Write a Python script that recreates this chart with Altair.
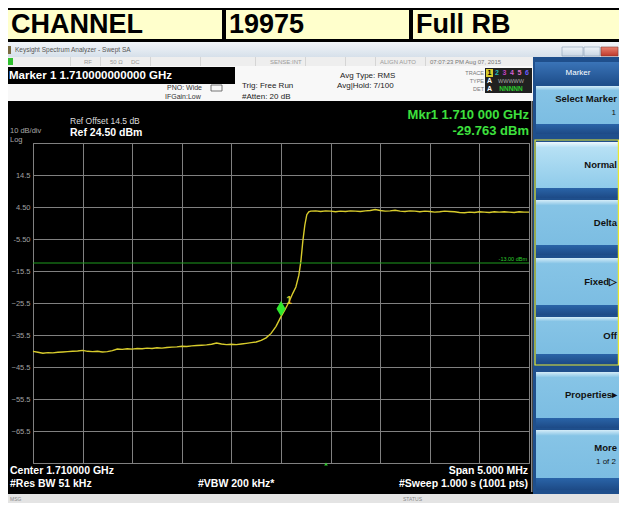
import altair as alt
import pandas as pd

# ---------------- data ----------------
offset_mhz = [-2.50, -2.45, -2.40, -2.35, -2.30, -2.25, -2.20, -2.15, -2.10, -2.05,
              -2.00, -1.95, -1.90, -1.85, -1.80, -1.75, -1.70, -1.65, -1.60, -1.55,
              -1.50, -1.45, -1.40, -1.35, -1.30, -1.25, -1.20, -1.15, -1.10, -1.05,
              -1.00, -0.95, -0.90, -0.85, -0.80, -0.75, -0.70, -0.65, -0.60, -0.55,
              -0.50, -0.45, -0.40, -0.35, -0.30, -0.25, -0.20, -0.15, -0.10, -0.05,
              0.00, 0.04, 0.08, 0.12, 0.15, 0.18, 0.20, 0.22, 0.24, 0.26,
              0.28, 0.30, 0.35, 0.40, 0.45, 0.50, 0.55, 0.60, 0.65, 0.70,
              0.75, 0.80, 0.85, 0.90, 0.95, 1.00, 1.05, 1.10, 1.15, 1.20,
              1.25, 1.30, 1.35, 1.40, 1.45, 1.50, 1.55, 1.60, 1.65, 1.70,
              1.75, 1.80, 1.85, 1.90, 1.95, 2.00, 2.05, 2.10, 2.15, 2.20,
              2.25, 2.30, 2.35, 2.40, 2.45, 2.50]
level_dbm = [-40.6, -40.9, -41.2, -41.0, -41.1, -40.9, -40.8, -40.7, -40.6, -40.5,
             -40.3, -40.6, -40.7, -40.6, -40.8, -40.7, -40.4, -39.9, -40.0, -39.8,
             -39.9, -39.7, -39.8, -39.6, -39.7, -39.5, -39.6, -39.4, -39.3, -39.2,
             -39.0, -39.1, -38.9, -38.8, -38.7, -38.6, -38.4, -38.0, -38.3, -38.5,
             -38.4, -38.5, -38.3, -38.1, -37.9, -37.7, -37.2, -36.4, -35.0, -32.8,
             -29.76, -27.6, -25.2, -22.4, -20.5, -16.8, -12.6, -6.2, -1.2, 2.1,
             3.0, 3.2, 3.3, 3.1, 3.3, 3.2, 3.0, 3.2, 3.1, 3.3,
             3.2, 3.1, 3.3, 3.4, 3.7, 3.4, 3.2, 3.3, 3.5, 3.2,
             3.1, 3.3, 3.2, 3.0, 3.2, 3.1, 2.9, 3.0, 3.2, 3.1,
             3.0, 2.8, 2.7, 2.9, 2.8, 3.0, 2.9, 2.8, 3.0, 2.9,
             3.0, 2.9, 2.8, 3.0, 2.9, 2.9]
marker_offset = [0.0]
marker_level = [-29.763]
limit_dbm = [-13.0]
x_ticks = [-2.5, -2.0, -1.5, -1.0, -0.5, 0.0, 0.5, 1.0, 1.5, 2.0, 2.5]
y_ticks = [24.5, 14.5, 4.5, -5.5, -15.5, -25.5, -35.5, -45.5, -55.5, -65.5, -75.5]

header_cells = ["CHANNEL", "19975", "Full RB"]
softkeys = [("Select Marker", "1"), ("Normal", ""), ("Delta", ""), ("Fixed\u25b7", ""),
            ("Off", ""), ("Properties\u25b8", ""), ("More", "1 of 2")]

# ---------------- layout ----------------
W, H = 496, 320
PAD_L, PAD_T = 25, 135
TOTAL_W, TOTAL_H = 611, 495
OX, OY = 8 + PAD_L, 8 + PAD_T   # screen position of plot origin
RIGHT = 8 + TOTAL_W             # right edge of the drawing on screen
FONT = "Liberation Sans"

one = pd.DataFrame({"k": [0]})
deco = []


def grad(*stops):
    return {"gradient": "linear", "x1": 0, "y1": 0, "x2": 0, "y2": 1,
            "stops": [{"offset": o, "color": c} for o, c in stops]}


def rect(x1, y1, x2, y2, fill, stroke=None, sw=1.0):
    kw = {"fill": fill} if fill is not None else {"fillOpacity": 0}
    if stroke:
        kw.update(stroke=stroke, strokeWidth=sw)
    deco.append(alt.Chart(one).mark_rect(**kw).encode(
        x=alt.value(x1 - OX), x2=alt.value(x2 - OX),
        y=alt.value(y1 - OY), y2=alt.value(y2 - OY)))


def text(s, x, y, size=8, color="#222222", align="left", weight="normal", baseline="middle"):
    deco.append(alt.Chart(one).mark_text(
        text=s, align=align, baseline=baseline, fontSize=size, fontWeight=weight,
        color=color, font=FONT).encode(x=alt.value(x - OX), y=alt.value(y - OY)))


# header table
for (x1, x2), label in zip([(2, 222), (226, 409), (413, 627)], header_cells):
    rect(x1, 10, x2, 39, "#ffffcc")
    text(label, (11 if x1 < 8 else x1 + 3), 25, size=27, color="#000000", weight="bold")

# window title bar
rect(2, 42, 627, 57, grad((0, "#f2f5f9"), (1, "#d6e0ea")))
rect(4, 46, 11, 54, "#7a6a40")
text("Keysight Spectrum Analyzer - Swept SA", 15, 50, size=6.5, color="#555555")
rect(562, 47, 583, 56, grad((0, "#eef3f8"), (1, "#c9d6e3")), stroke="#8aa0b5", sw=0.6)
rect(584, 47, 600, 56, grad((0, "#eef3f8"), (1, "#c9d6e3")), stroke="#8aa0b5", sw=0.6)
rect(601, 47, 618, 56, grad((0, "#e8816f"), (1, "#c0392b")), stroke="#8a3a30", sw=0.6)

# status row
rect(2, 57, 533, 66, "#eeeeee")
for sx in [70, 100, 150, 200, 255, 305, 345, 375, 425]:
    rect(sx, 57, sx + 0.6, 66, "#c4c4c4")
rect(4, 58, 13, 65, "#2fbf2f")
text("RF", 84, 62, size=6, color="#9a9a9a")
text("50 \u03a9", 110, 62, size=6, color="#9a9a9a")
text("DC", 131, 62, size=6, color="#9a9a9a")
text("SENSE:INT", 270, 62, size=6, color="#9a9a9a")
text("ALIGN AUTO", 380, 62, size=6, color="#9a9a9a")
text("07:07:23 PM Aug 07, 2015", 430, 62, size=6, color="#777777")

# info panel
rect(2, 66, 533, 101, "#f8f8f8")
rect(5, 67, 235, 84, "#000000")
text("Marker 1 1.710000000000 GHz", 9, 76, size=11.5, color="#ffffff", weight="bold")
text("PNO: Wide", 167, 88, size=7, color="#333333")
text("IFGain:Low", 165, 97, size=7, color="#333333")
rect(211, 85, 222, 91, None, stroke="#555555", sw=0.8)
text("Trig: Free Run", 242, 86, size=8, color="#222222")
text("#Atten: 20 dB", 242, 97, size=8, color="#222222")
text("Avg Type: RMS", 340, 76, size=8, color="#222222")
text("Avg|Hold: 7/100", 337, 86, size=8, color="#222222")
text("TRACE", 484, 73, size=5.5, color="#777777", align="right")
text("TYPE", 484, 81, size=5.5, color="#777777", align="right")
text("DET", 484, 89, size=5.5, color="#777777", align="right")
rect(485, 68, 532, 93, "#202020")
rect(486, 69, 493, 77, "#d8cc2c")
for i, (num, col) in enumerate(zip(["1", "2", "3", "4", "5", "6"],
                                   ["#000000", "#22b8b8", "#c040c0", "#d060d0", "#e070c0", "#6a5cff"])):
    text(num, 489.5 + i * 7.5, 73, size=7, color=col, align="center", weight="bold")
text("A", 489.5, 81, size=7, color="#ffffff", align="center", weight="bold")
text("WWWWW", 511, 81, size=5.5, color="#aaaaaa", align="center")
text("A", 489.5, 89, size=7, color="#ffffff", align="center", weight="bold")
text("NNNNN", 511, 89, size=6.5, color="#2ecc2e", align="center", weight="bold")

# display annotations
text("Ref Offset 14.5 dB", 70, 121, size=8.5, color="#dddddd")
text("Ref 24.50 dBm", 70, 133, size=10.5, color="#ffffff", weight="bold")
text("10 dB/div", 10, 131, size=7.5, color="#a8a8a8")
text("Log", 10, 140, size=7.5, color="#a8a8a8")
text("Mkr1 1.710 000 GHz", 529, 115, size=13, color="#3ee03e", align="right", weight="bold")
text("-29.763 dBm", 529, 131, size=13, color="#3ee03e", align="right", weight="bold")
text("Center 1.710000 GHz", 10, 471, size=10.5, color="#ffffff", weight="bold")
text("#Res BW 51 kHz", 10, 484, size=10.5, color="#ffffff", weight="bold")
text("#VBW 200 kHz*", 198, 484, size=10.5, color="#ffffff", weight="bold")
text("Span 5.000 MHz", 528, 471, size=10.5, color="#ffffff", align="right", weight="bold")
text("#Sweep  1.000 s (1001 pts)", 528, 484, size=10.5, color="#ffffff", align="right", weight="bold")
rect(531, 101, 532.5, 492, "#8a8a8a")

# right softkey panel
rect(533, 57, 627, 495, "#1f4f8c")
rect(535, 62, 627, 84, grad((0, "#3a74b8"), (1, "#1f4f8c")))
text("Marker", 578, 73, size=8, color="#ffffff", align="center")
key_rows = [(86, 124, 134), (142, 188, 198), (200, 245, 255), (258, 305, 315),
            (317, 354, 364), (372, 418, 428), (430, 478, 490)]
for i, ((t, m, b), (lab, sub)) in enumerate(zip(key_rows, softkeys)):
    top = "#eef8fd" if i == 1 else "#d4ecf8"
    body = "#b6e0f4" if i == 1 else "#86c4e6"
    rect(536, t, 627, m, grad((0, top), (0.12, body), (1, "#7cbde2" if i != 1 else "#8fcbea")))
    rect(536, m, 627, b, grad((0, "#2a64a8"), (1, "#1d4a86")))
    ty = (t + m) / 2 - (6 if sub else 0)
    text(lab, RIGHT - 2, ty, size=9.5, color="#111111", align="right", weight="bold")
    if sub:
        text(sub, RIGHT - 3, ty + 14, size=8, color="#111111", align="right")
rect(535, 140, RIGHT - 0.6, 365, None, stroke="#e8e830", sw=1.2)

# message bar
rect(2, 494, 627, 511, "#e4e4e4")
text("MSG", 10, 498.5, size=5, color="#888888")
text("STATUS", 403, 498.5, size=5, color="#888888")

# ---------------- main trace plot ----------------
xscale = alt.Scale(domain=[-2.5, 2.5], nice=False, zero=False)
yscale = alt.Scale(domain=[-75.5, 24.5], nice=False, zero=False)
label_expr = ("(datum.value == 24.5 || datum.value == -75.5) ? '' : "
              "(datum.value == 4.5 ? '4.50' : (datum.value == -5.5 ? '-5.50' : format(datum.value, '.1f')))")
xaxis = alt.Axis(values=x_ticks, grid=True, labels=False, ticks=False, domain=False, title=None,
                 gridColor="#808080", gridWidth=1)
yaxis = alt.Axis(values=y_ticks, grid=True, ticks=False, domain=False, title=None,
                 labelExpr=label_expr, labelColor="#a0a0a0", labelFontSize=7.5, labelFont=FONT,
                 labelPadding=3, labelOverlap=False, labelBound=False, labelFlush=False,
                 gridColor="#808080", gridWidth=1)

trace_df = pd.DataFrame({"offset": offset_mhz, "level": level_dbm})
trace = alt.Chart(trace_df).mark_line(color="#d8cc2c", strokeWidth=1.4).encode(
    x=alt.X("offset:Q", scale=xscale, axis=xaxis),
    y=alt.Y("level:Q", scale=yscale, axis=yaxis))

lim_df = pd.DataFrame({"lim": limit_dbm})
limit = alt.Chart(lim_df).mark_rule(color="#1e9b1e", strokeWidth=1.2).encode(
    y=alt.Y("lim:Q", scale=yscale, axis=yaxis))
limit_lbl = alt.Chart(lim_df).mark_text(text="-13.00 dBm", align="right", baseline="bottom",
                                        fontSize=5.5, color="#2ecc2e", font=FONT, dy=-1).encode(
    x=alt.value(W - 2), y=alt.Y("lim:Q", scale=yscale, axis=yaxis))

mk_df = pd.DataFrame({"offset": marker_offset, "level": marker_level})
marker = alt.Chart(mk_df).mark_point(shape="M0,-1L0.6,0L0,1L-0.6,0Z", filled=True, color="#2ee82e",
                                     opacity=1, size=230, yOffset=-8).encode(
    x=alt.X("offset:Q", scale=xscale, axis=xaxis), y=alt.Y("level:Q", scale=yscale, axis=yaxis))
marker_num = alt.Chart(mk_df).mark_text(text="1", fontSize=10, color="#d8cc2c", font=FONT,
                                        dx=8, dy=-16, fontWeight="bold").encode(
    x=alt.X("offset:Q", scale=xscale, axis=xaxis), y=alt.Y("level:Q", scale=yscale, axis=yaxis))
trig = alt.Chart(one).mark_point(shape="triangle-up", filled=True, color="#2ecc2e", size=14,
                                 opacity=1).encode(x=alt.value(326 - OX), y=alt.value(H + 1))

chart = alt.layer(*deco, trace, limit, limit_lbl, marker, marker_num, trig).properties(
    width=W, height=H,
    autosize=alt.AutoSizeParams(type="none"),
    padding={"left": PAD_L, "top": PAD_T, "right": TOTAL_W - PAD_L - W, "bottom": TOTAL_H - PAD_T - H},
    background="#000000",
).configure_view(fill="#000000", stroke="#8a8a8a", strokeWidth=1
).configure_axisY(labelOverlap=False)

chart.save("out.html", embed_options={"renderer": "svg", "actions": False})
